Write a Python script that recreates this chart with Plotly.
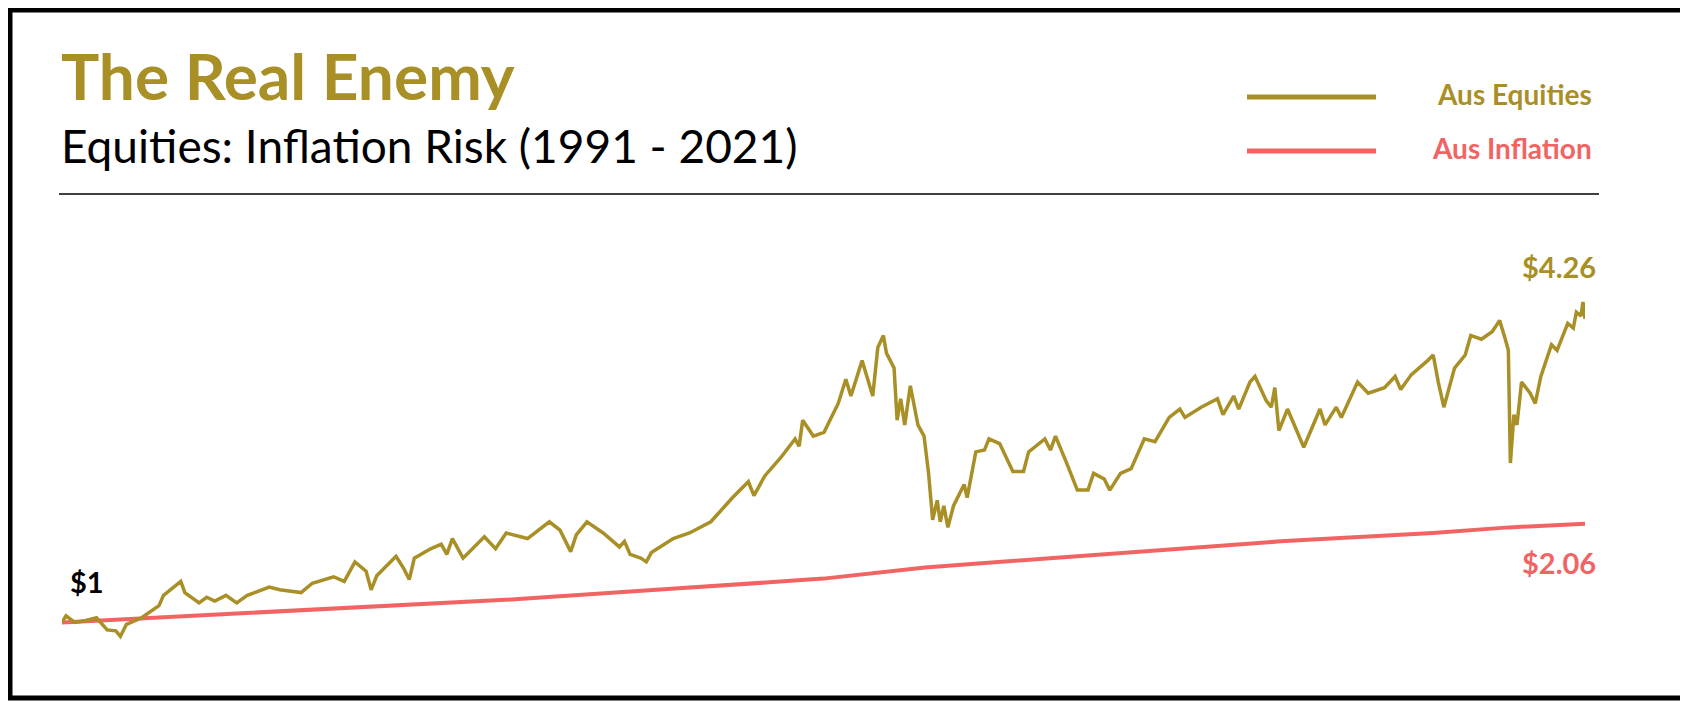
import plotly.graph_objects as go

# Aus Equities growth of $1
eq_years = [1991.00, 1991.08, 1991.25, 1991.47, 1991.68, 1991.89, 1992.06, 1992.15, 1992.27, 1992.57,
            1992.91, 1993.00, 1993.34, 1993.42, 1993.70, 1993.85, 1994.01, 1994.23, 1994.44, 1994.65,
            1995.08, 1995.29, 1995.71, 1995.93, 1996.35, 1996.56, 1996.77, 1996.99, 1997.09, 1997.20,
            1997.58, 1997.73, 1997.84, 1997.94, 1998.26, 1998.47, 1998.58, 1998.69, 1998.90, 1999.32,
            1999.54, 1999.75, 2000.17, 2000.60, 2000.81, 2001.02, 2001.13, 2001.34, 2001.66, 2001.98,
            2002.08, 2002.19, 2002.40, 2002.51, 2002.61, 2003.04, 2003.36, 2003.78, 2004.21, 2004.52,
            2004.63, 2004.84, 2005.16, 2005.44, 2005.52, 2005.59, 2005.80, 2006.01, 2006.29, 2006.44,
            2006.54, 2006.76, 2006.97, 2007.07, 2007.18, 2007.24, 2007.39, 2007.45, 2007.52, 2007.60,
            2007.71, 2007.86, 2007.98, 2008.07, 2008.15, 2008.24, 2008.30, 2008.37, 2008.45, 2008.56,
            2008.77, 2008.83, 2009.00, 2009.17, 2009.26, 2009.47, 2009.73, 2009.94, 2010.04, 2010.36,
            2010.47, 2010.57, 2010.79, 2011.00, 2011.21, 2011.32, 2011.53, 2011.64, 2011.85, 2012.06,
            2012.32, 2012.53, 2012.81, 2013.02, 2013.12, 2013.44, 2013.76, 2013.87, 2014.08, 2014.18,
            2014.40, 2014.50, 2014.72, 2014.82, 2014.89, 2014.97, 2015.14, 2015.46, 2015.78, 2015.88,
            2016.10, 2016.20, 2016.52, 2016.73, 2017.05, 2017.26, 2017.37, 2017.58, 2017.90, 2018.01,
            2018.11, 2018.22, 2018.43, 2018.64, 2018.75, 2018.96, 2019.17, 2019.32, 2019.43, 2019.49,
            2019.53, 2019.60, 2019.66, 2019.75, 2019.92, 2020.02, 2020.13, 2020.34, 2020.45, 2020.66,
            2020.77, 2020.83, 2020.92, 2020.96, 2021.00]
eq_values = [1.00, 1.07, 1.00, 1.02, 1.05, 0.92, 0.91, 0.85, 0.98, 1.05,
             1.18, 1.29, 1.44, 1.32, 1.21, 1.27, 1.23, 1.29, 1.21, 1.29,
             1.38, 1.35, 1.32, 1.42, 1.49, 1.44, 1.65, 1.55, 1.35, 1.50,
             1.71, 1.58, 1.46, 1.69, 1.79, 1.84, 1.73, 1.90, 1.69, 1.92,
             1.79, 1.96, 1.90, 2.08, 1.99, 1.76, 1.94, 2.08, 1.96, 1.81,
             1.87, 1.73, 1.69, 1.65, 1.75, 1.90, 1.96, 2.08, 2.34, 2.51,
             2.36, 2.57, 2.77, 2.97, 2.89, 3.17, 3.00, 3.04, 3.35, 3.61,
             3.43, 3.81, 3.43, 3.95, 4.08, 3.89, 3.73, 3.17, 3.40, 3.12,
             3.54, 3.12, 3.00, 2.60, 2.10, 2.31, 2.08, 2.25, 2.02, 2.25,
             2.48, 2.34, 2.83, 2.85, 2.97, 2.92, 2.62, 2.62, 2.83, 2.97,
             2.85, 3.00, 2.71, 2.42, 2.42, 2.60, 2.54, 2.42, 2.60, 2.65,
             2.97, 2.94, 3.20, 3.29, 3.20, 3.31, 3.40, 3.23, 3.43, 3.29,
             3.58, 3.64, 3.38, 3.31, 3.52, 3.06, 3.29, 2.88, 3.29, 3.12,
             3.31, 3.20, 3.58, 3.46, 3.52, 3.64, 3.50, 3.66, 3.81, 3.87,
             3.58, 3.31, 3.73, 3.87, 4.08, 4.04, 4.12, 4.24, 4.04, 3.92,
             2.71, 3.23, 3.12, 3.58, 3.46, 3.35, 3.64, 3.98, 3.92, 4.21,
             4.16, 4.33, 4.29, 4.44, 4.26]

# Aus Inflation growth of $1
inf_years = [1991, 1994, 1997, 2000, 2003, 2006, 2008, 2010, 2013, 2015, 2018, 2019.5, 2021]
inf_values = [1.00, 1.08, 1.16, 1.25, 1.36, 1.47, 1.59, 1.67, 1.78, 1.87, 1.96, 2.02, 2.06]

GOLD = "#A88F26"
RED = "#F26363"
FONT = "Lato"

# plot area (page pixels)
L, T, W, H = 54, 279, 1523, 382

fig = go.Figure()
fig.add_trace(go.Scatter(x=inf_years, y=inf_values, mode="lines",
                         line=dict(color=RED, width=4), hoverinfo="skip"))
fig.add_trace(go.Scatter(x=eq_years, y=eq_values, mode="lines",
                         line=dict(color=GOLD, width=3.5), hoverinfo="skip"))

fig.update_layout(
    width=1688, height=702,
    paper_bgcolor="white", plot_bgcolor="white",
    margin=dict(l=L, r=1688 - L - W, t=T, b=702 - T - H),
    showlegend=False,
    xaxis=dict(range=[1991, 2021], visible=False),
    yaxis=dict(range=[0.5, 4.6], visible=False),
    font=dict(family=FONT),
)

def px(x, y):
    # page pixel -> paper coordinates
    return (x - L) / W, (T + H - y) / H

# frame
fx0, fy0 = px(2, 2)
fx1, fy1 = px(1676, 690)
fig.add_shape(type="rect", xref="paper", yref="paper", x0=fx0, x1=fx1, y0=fy1, y1=fy0,
              line=dict(color="black", width=5))

sx0, sy = px(51, 186)
sx1, _ = px(1591, 186)
fig.add_shape(type="line", xref="paper", yref="paper", x0=sx0, x1=sx1, y0=sy, y1=sy,
              line=dict(color="black", width=1.5))

for y, col, label in [(89, GOLD, "Aus Equities"), (143, RED, "Aus Inflation")]:
    lx0, ly = px(1239, y)
    lx1, _ = px(1368, y)
    fig.add_shape(type="line", xref="paper", yref="paper", x0=lx0, x1=lx1, y0=ly, y1=ly,
                  line=dict(color=col, width=5))
    tx, ty = px(1586, y - 3)
    fig.add_annotation(xref="paper", yref="paper", x=tx, y=ty, text="<b>" + label + "</b>",
                       showarrow=False, xanchor="right", yanchor="middle",
                       font=dict(color=col, size=28, family=FONT))

tx, ty = px(51, 67)
fig.add_annotation(xref="paper", yref="paper", x=tx, y=ty, text="<b>The Real Enemy</b>",
                   showarrow=False, xanchor="left", yanchor="middle",
                   font=dict(color=GOLD, size=64, family=FONT))
tx, ty = px(51, 137)
fig.add_annotation(xref="paper", yref="paper", x=tx, y=ty, text="Equities: Inflation Risk (1991 - 2021)",
                   showarrow=False, xanchor="left", yanchor="middle",
                   font=dict(color="black", size=46, family=FONT))

for x, y, col, label in [(60, 573, "black", "$1"), (1590, 258, GOLD, "$4.26"), (1590, 554, RED, "$2.06")]:
    tx, ty = px(x, y)
    fig.add_annotation(xref="paper", yref="paper", x=tx, y=ty, text="<b>" + label + "</b>",
                       showarrow=False, xanchor="left" if label == "$1" else "right", yanchor="middle",
                       font=dict(color=col, size=29, family=FONT))

fig.write_html("out.html")
